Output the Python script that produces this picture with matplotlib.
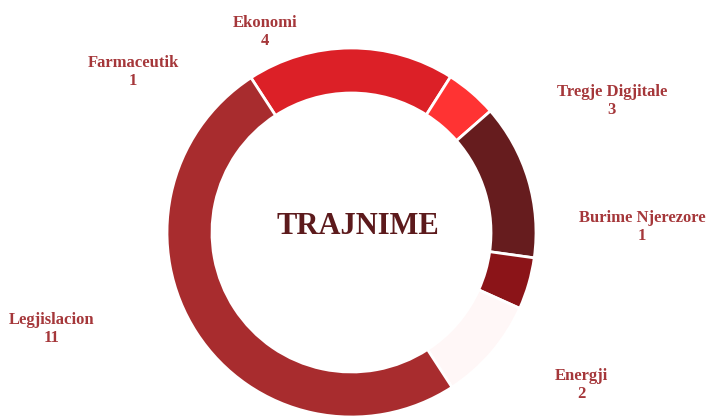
import matplotlib.pyplot as plt

# slices in clockwise order, starting at the top-left
categories = ["Ekonomi", "Farmaceutik", "Tregje Digjitale",
              "Burime Njerezore", "Energji", "Legjislacion"]
values = [4, 1, 3, 1, 2, 11]
colors = ["#DC2027", "#FF3333", "#661C1E", "#8B1418", "#FFF7F7", "#A82C2E"]
center_title = "TRAJNIME"

W, H = 706, 416

# label positions in pixels (from top-left of the image)
label_pos = [(265, 32), (133, 72), (612, 101), (642, 227), (581, 385), (52, 329)]

fig = plt.figure(figsize=(W / 100, H / 100), dpi=100)
ax = fig.add_axes([0, 0, 1, 1])

ax.pie(
    values,
    colors=colors,
    center=(351.5, H - 232.5),
    radius=184.5,
    startangle=123,
    counterclock=False,
    wedgeprops=dict(width=45, edgecolor="white", linewidth=2),
)

ax.set_xlim(0, W)
ax.set_ylim(0, H)
ax.set_aspect("equal")
ax.axis("off")

ax.text(358, H - 227, center_title, ha="center", va="center",
        fontsize=22, fontweight="bold", family="Liberation Serif",
        color="#5C1A1C")

for name, val, (x, y) in zip(categories, values, label_pos):
    ax.text(x, H - y, f"{name}\n{val}", ha="center", va="center",
            fontsize=12, fontweight="bold", family="Liberation Serif",
            color="#A5373A", linespacing=1.15)

fig.savefig("out.png", dpi=100)
